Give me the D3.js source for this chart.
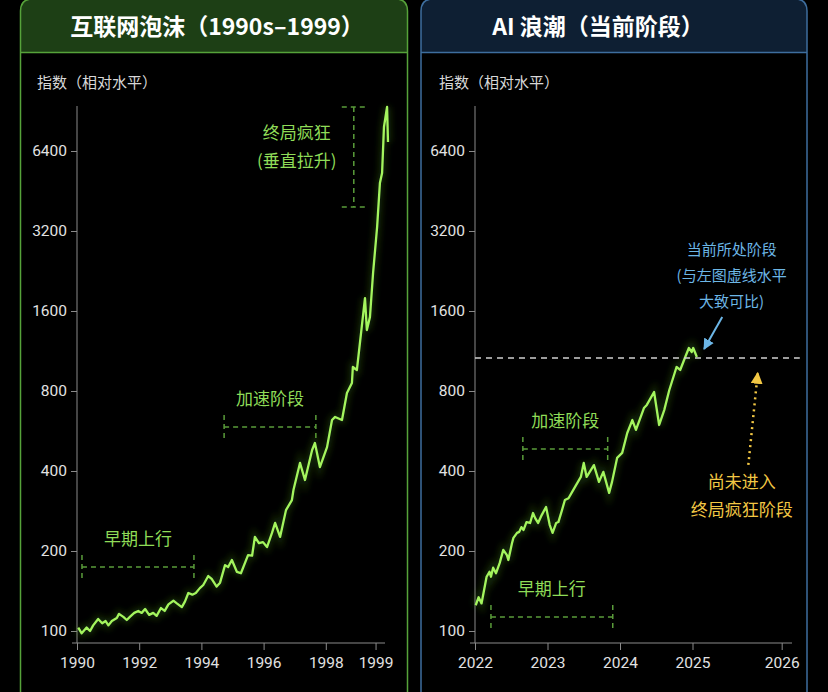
<!DOCTYPE html>
<html>
<head>
<meta charset="utf-8">
<script src="https://cdn.jsdelivr.net/npm/d3@7"></script>
<style>
  body { margin: 0; background: #000; }
  text { font-family: "Noto Sans CJK SC", "Noto Sans", sans-serif; }
</style>
</head>
<body>
<script>
const width = 828
const height = 692

// index level: [year, value]
const dotcomSeries = [
	[1990.04, 103], [1990.15, 98], [1990.31, 103], [1990.42, 100], [1990.52, 105], [1990.68, 111],
	[1990.81, 107], [1990.92, 109], [1991.01, 105], [1991.12, 109], [1991.28, 112], [1991.35, 116],
	[1991.49, 113], [1991.60, 110], [1991.70, 113], [1991.84, 117], [1991.97, 119], [1992.08, 117],
	[1992.19, 121], [1992.32, 115], [1992.45, 117], [1992.56, 114], [1992.70, 122], [1992.82, 119],
	[1992.94, 126], [1993.10, 130], [1993.21, 127], [1993.37, 123], [1993.47, 129], [1993.58, 139],
	[1993.71, 137], [1993.82, 139], [1993.95, 145], [1994.06, 149], [1994.22, 161], [1994.33, 157],
	[1994.49, 147], [1994.60, 152], [1994.76, 177], [1994.86, 174], [1994.98, 185], [1995.14, 167],
	[1995.27, 165], [1995.50, 193], [1995.63, 192], [1995.72, 226], [1995.85, 214], [1995.98, 216],
	[1996.11, 207], [1996.27, 234], [1996.37, 255], [1996.53, 226], [1996.72, 285], [1996.91, 311],
	[1996.96, 339], [1997.17, 429], [1997.33, 370], [1997.56, 480], [1997.65, 510], [1997.81, 414],
	[1998.04, 492], [1998.20, 622], [1998.30, 639], [1998.52, 622], [1998.68, 786], [1998.84, 857],
	[1998.87, 985], [1999.00, 960], [1999.26, 1790], [1999.32, 1357], [1999.42, 1519], [1999.52, 2224],
	[1999.65, 3313], [1999.74, 4850], [1999.81, 5290], [1999.87, 7880], [1999.97, 9370], [2000.00, 6920]
]

const aiSeries = [
	[2022.01, 125], [2022.05, 134], [2022.09, 127], [2022.16, 160], [2022.20, 167], [2022.22, 160],
	[2022.25, 173], [2022.29, 165], [2022.34, 180], [2022.39, 202], [2022.44, 193], [2022.46, 185],
	[2022.51, 214], [2022.53, 224], [2022.58, 234], [2022.61, 236], [2022.64, 246], [2022.67, 240],
	[2022.71, 257], [2022.76, 255], [2022.80, 278], [2022.83, 266], [2022.87, 255], [2022.92, 273],
	[2022.98, 293], [2023.03, 251], [2023.07, 234], [2023.12, 255], [2023.15, 257], [2023.20, 285],
	[2023.24, 311], [2023.29, 316], [2023.37, 345], [2023.46, 380], [2023.50, 429], [2023.54, 380],
	[2023.64, 421], [2023.71, 364], [2023.77, 397], [2023.85, 331], [2023.89, 364], [2023.96, 448],
	[2024.03, 468], [2024.10, 556], [2024.17, 622], [2024.22, 571], [2024.33, 690], [2024.37, 709],
	[2024.47, 793], [2024.54, 596], [2024.61, 678], [2024.68, 807], [2024.78, 985], [2024.83, 960],
	[2024.90, 1074], [2024.95, 1161], [2024.99, 1122], [2025.01, 1161], [2025.06, 1074]
]

const yTicks = [100, 200, 400, 800, 1600, 3200, 6400]
const dotcomXTicks = [1990, 1992, 1994, 1996, 1998, 1999.6]
const dotcomXLabels = ['1990', '1992', '1994', '1996', '1998', '1999']
const aiXTicks = [2022, 2023, 2024, 2025, 2026.23]
const aiXLabels = ['2022', '2023', '2024', '2025', '2026']

// phase brackets: [from, to, level, label]
const dotcomPhases = [
	[1990.16, 1993.76, 174, '早期上行'],
	[1994.73, 1997.68, 586, '加速阶段']
]
const aiPhases = [
	[2022.22, 2023.90, 113, '早期上行'],
	[2022.66, 2023.83, 484, '加速阶段']
]
// final vertical run-up: [year, low, high]
const manicPhase = [1998.9, 3940, 9370]
const manicLabels = ['终局疯狂', '(垂直拉升)']
const currentLevel = 1065
const currentSpan = [2022, 2026.48]
const noteLines = ['当前所处阶段', '(与左图虚线水平', '大致可比)']
const notYetLines = ['尚未进入', '终局疯狂阶段']

const lineColor = '#a4f55e'
const labelGreen = '#8fdc58'
const bracketGreen = '#5a9c3a'
const blue = '#6cb6e6'
const yellow = '#f2c744'

const svg = d3.select('body').append('svg').attr('width', width).attr('height', height)
svg.append('rect').attr('width', width).attr('height', height).attr('fill', '#000')

const defs = svg.append('defs')
defs.append('filter').attr('id', 'glow').attr('x', '-20%').attr('y', '-20%').attr('width', '140%').attr('height', '140%')
	.append('feGaussianBlur').attr('stdDeviation', 3)

function marker(id, color, size) {
	defs.append('marker')
		.attr('id', id)
		.attr('viewBox', '0 0 10 10')
		.attr('refX', 9).attr('refY', 5)
		.attr('markerUnits', 'userSpaceOnUse')
		.attr('markerWidth', size).attr('markerHeight', size)
		.attr('orient', 'auto')
		.append('path').attr('d', 'M0,0L10,5L0,10Z').attr('fill', color)
}
marker('arrowBlue', blue, 11)
marker('arrowYellow', yellow, 12)

const y = d3.scaleLog().base(2).domain([100, 6400]).range([631, 151])

function drawPanel(p) {
	const g = svg.append('g')
	const r = 12
	const top = -1
	const bottom = height + 10

	// header band
	g.append('path')
		.attr('d', `M${p.left},52 V${top + r} Q${p.left},${top} ${p.left + r},${top} H${p.right - r} Q${p.right},${top} ${p.right},${top + r} V52 Z`)
		.attr('fill', p.headerFill)
	// outline
	g.append('path')
		.attr('d', `M${p.left},${bottom} V${top + r} Q${p.left},${top} ${p.left + r},${top} H${p.right - r} Q${p.right},${top} ${p.right},${top + r} V${bottom}`)
		.attr('fill', 'none').attr('stroke', p.border).attr('stroke-width', 1.5)
	g.append('line').attr('x1', p.left).attr('x2', p.right).attr('y1', 52.5).attr('y2', 52.5)
		.attr('stroke', p.border).attr('stroke-width', 1.5)

	g.append('text').attr('x', p.titleX).attr('y', 27).attr('dy', '0.36em')
		.attr('text-anchor', 'middle').attr('fill', '#fff')
		.style('font-size', '23px').style('font-weight', 700)
		.text(p.title)

	g.append('text').attr('x', p.yLabelX).attr('y', 83).attr('dy', '0.36em')
		.attr('fill', '#d8d8d8').style('font-size', '15px')
		.text('指数（相对水平）')

	const x = d3.scaleLinear().domain(p.xDomain).range(p.xRange)
	const x0 = p.xRange[0]

	// axes
	const yAxis = g.append('g').attr('transform', `translate(${x0},0)`)
		.call(d3.axisLeft(y).tickValues(yTicks).tickFormat(d3.format('d')).tickSize(6).tickPadding(4))
	const xAxis = g.append('g').attr('transform', 'translate(0,643)')
		.call(d3.axisBottom(x).tickValues(p.xTicks).tickFormat((d, i) => p.xLabels[i]).tickSize(7).tickPadding(7))
	for (const a of [yAxis, xAxis]) {
		a.select('.domain').remove()
		a.selectAll('line').attr('stroke', '#8a8a8a')
		a.selectAll('text').attr('fill', '#e2e2e2').style('font-size', '15.5px')
			.style('font-family', 'Roboto, "Noto Sans", sans-serif')
	}
	g.append('line').attr('x1', x0).attr('x2', x0).attr('y1', 106).attr('y2', 643)
		.attr('stroke', '#8a8a8a').attr('stroke-width', 1)
	g.append('line').attr('x1', x0 - 5).attr('x2', p.axisEnd).attr('y1', 643).attr('y2', 643)
		.attr('stroke', '#8a8a8a').attr('stroke-width', 1.2)

	// phase brackets
	p.phases.forEach(function (d) {
		const b = g.append('g').attr('stroke', bracketGreen).attr('stroke-width', 1.5).attr('stroke-dasharray', '5,4')
		const yy = y(d[2])
		b.append('line').attr('x1', x(d[0])).attr('x2', x(d[1])).attr('y1', yy).attr('y2', yy)
		b.append('line').attr('x1', x(d[0])).attr('x2', x(d[0])).attr('y1', yy - 12).attr('y2', yy + 11)
		b.append('line').attr('x1', x(d[1])).attr('x2', x(d[1])).attr('y1', yy - 12).attr('y2', yy + 11)
		g.append('text').attr('x', (x(d[0]) + x(d[1])) / 2).attr('y', yy - 28).attr('dy', '0.36em')
			.attr('text-anchor', 'middle').attr('fill', labelGreen).style('font-size', '17px')
			.text(d[3])
	})

	// series, with a soft glow underneath
	const line = d3.line().x(d => x(d[0])).y(d => y(d[1]))
	g.append('path').datum(p.data).attr('d', line)
		.attr('fill', 'none').attr('stroke', '#4f9e22').attr('stroke-width', 7)
		.attr('stroke-opacity', 0.25).attr('filter', 'url(#glow)')
	g.append('path').datum(p.data).attr('d', line)
		.attr('fill', 'none').attr('stroke', lineColor).attr('stroke-width', 2.3)
		.attr('stroke-linejoin', 'round')

	return { g, x }
}

// left: dot-com bubble
const left = drawPanel({
	left: 20.5, right: 407.5, headerFill: '#1d3f15', border: '#56a23a',
	title: '互联网泡沫（1990s–1999）', titleX: 217, yLabelX: 37,
	xDomain: [1990, 2000], xRange: [77, 388], axisEnd: 385,
	xTicks: dotcomXTicks, xLabels: dotcomXLabels,
	phases: dotcomPhases, data: dotcomSeries
})

{
	const g = left.g, x = left.x
	const mx = x(manicPhase[0])
	const b = g.append('g').attr('stroke', bracketGreen).attr('stroke-width', 1.5).attr('stroke-dasharray', '5,4')
	b.append('line').attr('x1', mx).attr('x2', mx).attr('y1', y(manicPhase[2])).attr('y2', y(manicPhase[1]))
	b.append('line').attr('x1', mx - 12).attr('x2', mx + 12).attr('y1', y(manicPhase[2])).attr('y2', y(manicPhase[2]))
	b.append('line').attr('x1', mx - 12).attr('x2', mx + 12).attr('y1', y(manicPhase[1])).attr('y2', y(manicPhase[1]))
	g.selectAll('.manic').data(manicLabels).enter().append('text')
		.attr('x', mx - 57)
		.attr('y', (d, i) => y(manicPhase[2]) + 26 + i * 28)
		.attr('dy', '0.36em').attr('text-anchor', 'middle')
		.attr('fill', labelGreen).style('font-size', '17px')
		.text(d => d)
}

// right: AI wave
const right = drawPanel({
	left: 421, right: 807, headerFill: '#0e1f33', border: '#3e6e9e',
	title: 'AI 浪潮（当前阶段）', titleX: 598, yLabelX: 439,
	xDomain: [2022, 2026], xRange: [475, 765], axisEnd: 792,
	xTicks: aiXTicks, xLabels: aiXLabels,
	phases: aiPhases, data: aiSeries
})

{
	const g = right.g, x = right.x
	const ly = y(currentLevel)
	g.append('line').attr('x1', x(currentSpan[0])).attr('x2', x(currentSpan[1])).attr('y1', ly).attr('y2', ly)
		.attr('stroke', '#cfcfcf').attr('stroke-width', 1.5).attr('stroke-dasharray', '6,5')

	// note about the current stage
	g.selectAll('.note').data(noteLines).enter().append('text')
		.attr('x', x(2025.54))
		.attr('y', (d, i) => ly - 108 + i * 26)
		.attr('dy', '0.36em').attr('text-anchor', 'middle')
		.attr('fill', blue).style('font-size', '15px')
		.text(d => d)
	g.append('line')
		.attr('x1', x(2025.41)).attr('y1', ly - 41)
		.attr('x2', x(2025.16)).attr('y2', ly - 9)
		.attr('stroke', blue).attr('stroke-width', 2)
		.attr('marker-end', 'url(#arrowBlue)')

	// not yet in the final stage
	g.append('line')
		.attr('x1', x(2025.77)).attr('y1', ly + 107)
		.attr('x2', x(2025.90)).attr('y2', ly + 15)
		.attr('stroke', yellow).attr('stroke-width', 2.5).attr('stroke-dasharray', '2,4')
		.attr('marker-end', 'url(#arrowYellow)')
	g.selectAll('.notyet').data(notYetLines).enter().append('text')
		.attr('x', x(2025.68))
		.attr('y', (d, i) => ly + 124 + i * 28)
		.attr('dy', '0.36em').attr('text-anchor', 'middle')
		.attr('fill', yellow).style('font-size', '17px')
		.text(d => d)
}
</script>
</body>
</html>
